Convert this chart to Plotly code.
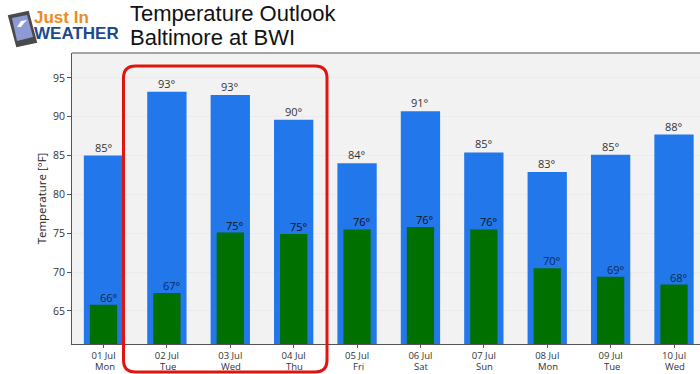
import plotly.graph_objects as go

dates = ["01 Jul", "02 Jul", "03 Jul", "04 Jul", "05 Jul", "06 Jul", "07 Jul", "08 Jul", "09 Jul", "10 Jul"]
days = ["Mon", "Tue", "Wed", "Thu", "Fri", "Sat", "Sun", "Mon", "Tue", "Wed"]
highs = [85.0, 93.2, 92.8, 89.6, 84.0, 90.7, 85.4, 82.9, 85.1, 87.7]
lows = [65.8, 67.3, 75.1, 74.9, 75.5, 75.8, 75.5, 70.5, 69.4, 68.4]
high_labels = ["85°", "93°", "93°", "90°", "84°", "91°", "85°", "83°", "85°", "88°"]
low_labels = ["66°", "67°", "75°", "75°", "76°", "76°", "76°", "70°", "69°", "68°"]
xpos = list(range(len(dates)))

BLUE = "#2277ea"
GREEN = "#007000"
FONT = "Open Sans"
W, H = 700, 374
L, T, B = 72, 53, 344


def px(x):
    return (x - L) / (W - L)


def py(y):
    return (B - y) / (B - T)


def poly(points):
    return "M " + " L ".join(f"{px(a)} {py(b)}" for a, b in points) + " Z"


fig = go.Figure()
fig.add_bar(x=xpos, y=highs, width=0.62, marker=dict(color=BLUE, line_width=0),
            hoverinfo="skip", name="High")
fig.add_bar(x=xpos, y=lows, width=0.43, marker=dict(color=GREEN, line_width=0),
            hoverinfo="skip", name="Low")

for x, v, t in zip(xpos, highs, high_labels):
    fig.add_annotation(x=x, y=v, text=t, showarrow=False, yanchor="bottom", yshift=-1,
                       font=dict(family=FONT, size=11, color="#333333"))
for x, v, t in zip(xpos, lows, low_labels):
    fig.add_annotation(x=x, y=v, text=t, showarrow=False, yanchor="bottom", yshift=-2, xshift=5,
                       font=dict(family=FONT, size=11, color="#0a2a55" if v < 72 else "#111111"))

# weekday line under each date
for x, d in zip(xpos, days):
    fig.add_annotation(x=x, xref="x", yref="paper", y=py(366.5), text=d, showarrow=False, xshift=1,
                       yanchor="middle", height=9, borderpad=0,
                       font=dict(family=FONT, size=9.5, color="#333333"))

# highlight box around the 02-04 Jul bars
x0, x1, y0, y1, r = px(123.5), px(327), py(372), py(66), 12
rx, ry = r / (W - L), r / (B - T)
fig.add_shape(type="path", xref="paper", yref="paper", layer="above",
              path=(f"M {x0+rx} {y1} L {x1-rx} {y1} Q {x1} {y1} {x1} {y1-ry} "
                    f"L {x1} {y0+ry} Q {x1} {y0} {x1-rx} {y0} "
                    f"L {x0+rx} {y0} Q {x0} {y0} {x0} {y0+ry} "
                    f"L {x0} {y1-ry} Q {x0} {y1} {x0+rx} {y1} Z"),
              line=dict(color="#e0150f", width=3))

# Title
for txt, yy in [("Temperature Outlook", 13), ("Baltimore at BWI", 38)]:
    fig.add_annotation(xref="paper", yref="paper", x=px(130), y=py(yy), text=txt, showarrow=False,
                       xanchor="left", yanchor="middle", xshift=-2,
                       font=dict(family="Liberation Sans", size=22, color="#111111"))

# Logo
fig.add_annotation(xref="paper", yref="paper", x=px(33), y=py(17), text="<b>Just In</b>", showarrow=False,
                   xanchor="left", yanchor="middle", height=15, borderpad=0,
                   font=dict(family="Liberation Sans", size=17, color="#ee8a22"))
fig.add_annotation(xref="paper", yref="paper", x=px(33), y=py(33), text="<b>WEATHER</b>", showarrow=False,
                   xanchor="left", yanchor="middle", height=15, borderpad=0,
                   font=dict(family="Liberation Sans", size=17, color="#1c4a8f"))
fig.add_shape(type="path", xref="paper", yref="paper", layer="above",
              path=poly([(9, 16), (28, 12), (36, 42), (17, 46)]),
              fillcolor="#4a4a4a", line=dict(color="#4a4a4a", width=2))
fig.add_shape(type="path", xref="paper", yref="paper", layer="above",
              path=poly([(12, 18), (27, 15), (33, 37), (17, 41)]),
              fillcolor="#8e9ad6", line=dict(width=0))
fig.add_shape(type="path", xref="paper", yref="paper", layer="above",
              path=poly([(17, 27), (21, 21), (27, 20), (24, 23), (21, 27)]),
              fillcolor="#ffffff", line=dict(width=0))

fig.update_layout(
    width=W, height=H, autosize=False,
    margin=dict(l=L, r=0, t=T, b=H - B),
    barmode="overlay", showlegend=False,
    paper_bgcolor="white", plot_bgcolor="#f2f2f3",
    font=dict(family=FONT, color="#333333"),
    xaxis=dict(range=[-0.497, 9.41], tickmode="array", tickvals=xpos,
               ticktext=dates,
               tickfont=dict(size=9.5, color="#333333"), ticks="outside", ticklen=3,
               tickcolor="#555555", showgrid=False, showline=True, linecolor="#555555", linewidth=1,
               zeroline=False),
    yaxis=dict(range=[60.75, 98.2], tickmode="array", tickvals=[65, 70, 75, 80, 85, 90, 95],
               tickfont=dict(size=10.5, color="#333333"), ticks="outside", ticklen=4,
               tickcolor="#555555", gridcolor="#ebebeb", gridwidth=1, showline=True,
               linecolor="#555555", linewidth=1, zeroline=False,
               title=dict(text="Temperature [°F]", font=dict(size=11.5, color="#222222"), standoff=3)),
)
fig.add_shape(type="line", xref="paper", yref="paper", x0=0, x1=1, y0=1, y1=1,
              line=dict(color="#888888", width=1.5))

fig.write_html("out.html", config=dict(displayModeBar=False),
               post_script="document.body.style.margin='0';document.body.style.overflow='hidden';")
